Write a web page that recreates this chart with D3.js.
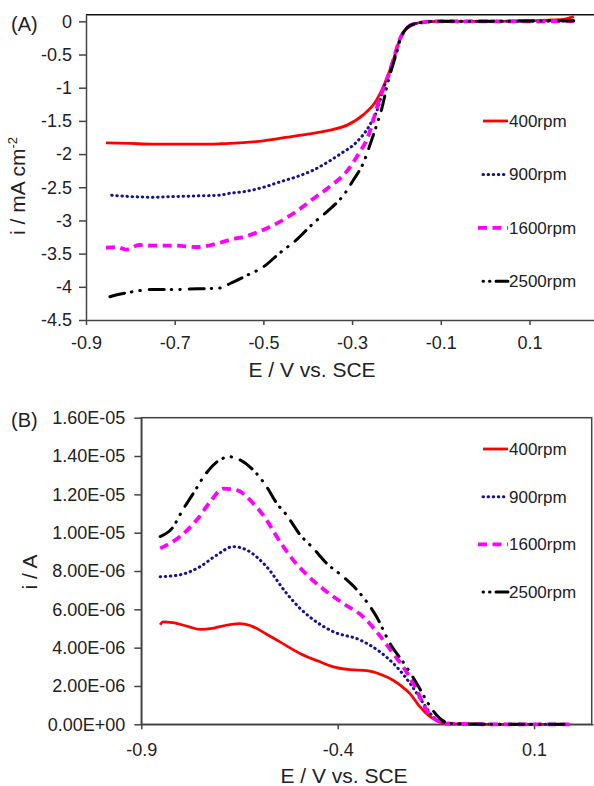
<!DOCTYPE html>
<html>
<head>
<meta charset="utf-8">
<script src="https://cdn.jsdelivr.net/npm/d3@7"></script>
<style>
  body { margin: 0; background: #fff; }
  svg { display: block; font-family: "Liberation Sans", Arial, sans-serif; }
</style>
</head>
<body>
<svg id="chart"></svg>
<script>
//Chart size
const width = 594;
const height = 786;

//++++++++++++++++++
//--DATA--
//++++++++++++++++++
//Legend labels, one per rotation rate
const rpmLabels = ['400rpm', '900rpm', '1600rpm', '2500rpm'];

//Panel (A): [E / V vs. SCE, i / mA cm-2]
const a400 = [[-0.855, -1.83], [-0.8, -1.84], [-0.75, -1.85], [-0.7, -1.85], [-0.65, -1.85], [-0.6, -1.845],
    [-0.575, -1.84], [-0.5, -1.8], [-0.45, -1.75], [-0.4, -1.70], [-0.35, -1.64], [-0.31, -1.56],
    [-0.275, -1.41], [-0.245, -1.19], [-0.226, -0.93], [-0.207, -0.58], [-0.193, -0.28], [-0.177, -0.105],
    [-0.155, -0.03], [-0.124, -0.005], [-0.1, 0], [0, 0], [0.1, 0.01], [0.15, 0.02], [0.18, 0.035], [0.2, 0.07]];
const a900 = [[-0.842, -2.62], [-0.8, -2.64], [-0.75, -2.65], [-0.7, -2.64], [-0.65, -2.63], [-0.6, -2.62],
    [-0.575, -2.59], [-0.538, -2.56], [-0.5, -2.5], [-0.463, -2.42], [-0.42, -2.33], [-0.387, -2.24],
    [-0.35, -2.1], [-0.327, -2.0], [-0.29, -1.82], [-0.26, -1.56], [-0.241, -1.29], [-0.23, -1.03],
    [-0.215, -0.78], [-0.2, -0.45], [-0.19, -0.24], [-0.177, -0.105], [-0.155, -0.03], [-0.124, -0.005],
    [-0.1, 0], [0, 0], [0.1, 0], [0.2, 0.005]];
const a1600 = [[-0.855, -3.41], [-0.83, -3.40], [-0.81, -3.44], [-0.78, -3.37], [-0.75, -3.38], [-0.7, -3.38],
    [-0.65, -3.40], [-0.6, -3.34], [-0.575, -3.29], [-0.54, -3.24], [-0.493, -3.12], [-0.45, -2.97],
    [-0.425, -2.86], [-0.387, -2.67], [-0.35, -2.49], [-0.312, -2.26], [-0.282, -1.96], [-0.268, -1.8],
    [-0.236, -1.13], [-0.222, -0.88], [-0.207, -0.58], [-0.193, -0.28], [-0.177, -0.105], [-0.155, -0.03],
    [-0.124, -0.005], [-0.1, 0], [0, 0], [0.1, 0], [0.2, 0.005]];
const a2500 = [[-0.846, -4.15], [-0.83, -4.12], [-0.8, -4.08], [-0.75, -4.04], [-0.7, -4.04], [-0.65, -4.03],
    [-0.6, -4.02], [-0.575, -3.95], [-0.538, -3.83], [-0.5, -3.7], [-0.463, -3.49], [-0.425, -3.29],
    [-0.387, -3.04], [-0.357, -2.87], [-0.316, -2.59], [-0.297, -2.39], [-0.275, -2.14], [-0.256, -1.79],
    [-0.241, -1.49], [-0.234, -1.34], [-0.219, -0.91], [-0.2, -0.48], [-0.19, -0.25], [-0.177, -0.105],
    [-0.155, -0.03], [-0.124, -0.005], [-0.1, 0], [0, 0], [0.1, 0.005], [0.2, 0.01]];

//Panel (B): [E / V vs. SCE, i / A]
const b400 = [[-0.852, 5.2e-6], [-0.845, 5.35e-6], [-0.82, 5.3e-6], [-0.78, 5.1e-6], [-0.751, 4.95e-6],
    [-0.72, 5.0e-6], [-0.7, 5.1e-6], [-0.649, 5.25e-6], [-0.616, 5.1e-6], [-0.581, 4.7e-6], [-0.547, 4.3e-6],
    [-0.496, 3.7e-6], [-0.45, 3.3e-6], [-0.411, 3.0e-6], [-0.37, 2.85e-6], [-0.326, 2.8e-6], [-0.29, 2.6e-6],
    [-0.259, 2.3e-6], [-0.235, 1.95e-6], [-0.216, 1.6e-6], [-0.191, 0.92e-6], [-0.165, 0.4e-6],
    [-0.14, 0.12e-6], [-0.12, 0.02e-6], [0, 0], [0.19, 0]];
const b900 = [[-0.852, 7.7e-6], [-0.802, 7.8e-6], [-0.751, 8.22e-6], [-0.708, 8.83e-6], [-0.666, 9.27e-6],
    [-0.632, 9.1e-6], [-0.581, 8.22e-6], [-0.53, 6.83e-6], [-0.496, 6.05e-6], [-0.471, 5.6e-6],
    [-0.411, 4.83e-6], [-0.343, 4.4e-6], [-0.293, 3.79e-6], [-0.25, 3.0e-6], [-0.216, 2.14e-6],
    [-0.182, 1.1e-6], [-0.157, 0.4e-6], [-0.123, 0.08e-6], [-0.1, 0.02e-6], [0, 0], [0.19, 0]];
const b1600 = [[-0.852, 9.18e-6], [-0.802, 9.79e-6], [-0.759, 10.66e-6], [-0.725, 11.6e-6], [-0.691, 12.3e-6],
    [-0.657, 12.22e-6], [-0.615, 11.53e-6], [-0.581, 10.66e-6], [-0.555, 9.79e-6], [-0.513, 8.57e-6],
    [-0.471, 7.66e-6], [-0.428, 6.92e-6], [-0.386, 6.31e-6], [-0.335, 5.61e-6], [-0.301, 4.83e-6],
    [-0.259, 3.7e-6], [-0.225, 2.74e-6], [-0.199, 1.79e-6], [-0.174, 0.75e-6], [-0.148, 0.22e-6],
    [-0.12, 0.03e-6], [0, 0], [0.19, 0]];
const b2500 = [[-0.852, 9.8e-6], [-0.819, 10.3e-6], [-0.797, 11.1e-6], [-0.763, 12.2e-6], [-0.742, 12.9e-6],
    [-0.7, 13.8e-6], [-0.674, 13.96e-6], [-0.649, 13.8e-6], [-0.615, 13.27e-6], [-0.581, 12.4e-6],
    [-0.555, 11.53e-6], [-0.53, 10.92e-6], [-0.496, 9.9e-6], [-0.462, 9.18e-6], [-0.428, 8.4e-6],
    [-0.386, 7.7e-6], [-0.343, 6.83e-6], [-0.301, 5.61e-6], [-0.267, 4.23e-6], [-0.225, 3.0e-6],
    [-0.199, 2.14e-6], [-0.17, 1.1e-6], [-0.14, 0.31e-6], [-0.115, 0.05e-6], [0, 0], [0.19, 0]];

//Tick values
const aTicksX = [-0.9, -0.7, -0.5, -0.3, -0.1, 0.1];
const aTicksY = [0, -0.5, -1, -1.5, -2, -2.5, -3, -3.5, -4, -4.5];
const bTicksX = [-0.9, -0.4, 0.1];
const bTicksY = [0, 2e-6, 4e-6, 6e-6, 8e-6, 1e-5, 1.2e-5, 1.4e-5, 1.6e-5];

//Line styles for the four series (same order as rpmLabels)
const styles = [
    { color: '#ff0000', width: 2.8, dash: null, cap: 'butt' },
    { color: '#14148c', width: 3, dash: '0.5 4.6', cap: 'round' },
    { color: '#ff00ff', width: 3.8, dash: '9 5.5', cap: 'butt' },
    { color: '#000000', width: 3, dash: '15 7 0.5 8 0.5 9', cap: 'round' },
];

const svg = d3.select('svg#chart').attr('width', width).attr('height', height);

//Excel-style scientific labels, e.g. 1.60E-05
function sciFormat(d) {
    if (d === 0) return '0.00E+00';
    const [m, e] = d.toExponential(2).split('e');
    const n = Math.abs(+e);
    return m + 'E' + (+e < 0 ? '-' : '+') + (n < 10 ? '0' + n : n);
}

function drawPanel(p) {
    const g = svg.append('g');
    const x = d3.scaleLinear().domain(p.xDomain).range([p.left, p.right]);
    const y = d3.scaleLinear().domain(p.yDomain).range([p.bottom, p.top]);

    //frame
    if (p.box) {
        g.append('rect').attr('x', p.left).attr('y', p.top)
            .attr('width', p.boxRight - p.left).attr('height', p.bottom - p.top)
            .attr('fill', 'none').attr('stroke', '#444').attr('stroke-width', 1.5);
    } else {
        g.append('line').attr('x1', p.left).attr('x2', width).attr('y1', p.top).attr('y2', p.top)
            .attr('stroke', '#111').attr('stroke-width', 1.5);
    }

    //axes
    const xAxis = g.append('g').attr('transform', `translate(0,${p.bottom})`)
        .call(d3.axisBottom(x).tickValues(p.xTicks).tickSize(5).tickSizeOuter(0)
            .tickPadding(p.xPad).tickFormat(d => String(d)));
    const yAxis = g.append('g').attr('transform', `translate(${p.left},0)`)
        .call(d3.axisLeft(y).tickValues(p.yTicks).tickSize(7).tickSizeOuter(0)
            .tickPadding(p.yPad).tickFormat(p.yFormat));
    [xAxis, yAxis].forEach(a => {
        a.attr('font-family', null).attr('font-size', 18);
        a.selectAll('path, line').attr('stroke', '#444').attr('stroke-width', 1.5);
        a.selectAll('text').attr('fill', '#222');
    });

    //curves
    const line = d3.line().x(d => x(d[0])).y(d => y(d[1])).curve(d3.curveMonotoneX);
    p.series.forEach((s, i) => {
        const st = styles[i];
        g.append('path').datum(s).attr('d', line)
            .attr('fill', 'none').attr('stroke', st.color).attr('stroke-width', st.width)
            .attr('stroke-dasharray', st.dash).attr('stroke-linecap', st.cap)
            .attr('stroke-linejoin', 'round');
    });

    //legend
    rpmLabels.forEach((lab, i) => {
        const st = styles[i];
        const ly = p.legendY + i * p.legendStep;
        g.append('line').attr('x1', i === 2 ? 478 : 483).attr('x2', 508).attr('y1', ly).attr('y2', ly)
            .attr('stroke', st.color).attr('stroke-width', st.width)
            .attr('stroke-dasharray', i === 3 ? '0.5 6 0.5 6 14' : st.dash)
            .attr('stroke-linecap', st.cap);
        g.append('text').attr('x', 509).attr('y', ly).attr('dy', '0.35em')
            .attr('font-size', 17).attr('fill', '#222').text(lab);
    });

    //panel letter and titles
    g.append('text').attr('x', 11).attr('y', p.letterY).attr('font-size', 20).attr('fill', '#222').text(p.letter);
    g.append('text').attr('x', p.xTitleX).attr('y', p.xTitleY).attr('text-anchor', 'middle')
        .attr('font-size', 21).attr('fill', '#222').text('E / V vs. SCE');
    const yt = g.append('text').attr('transform', `translate(${p.yTitleX},${p.yTitleY}) rotate(-90)`)
        .attr('text-anchor', 'middle').attr('font-size', 21).attr('fill', '#222');
    p.yTitle(yt);
}

//Panel (A)
drawPanel({
    series: [a400, a900, a1600, a2500],
    xDomain: [-0.9, 0.25], yDomain: [-4.5, 0.1],
    left: 86, right: 596, top: 14.7, bottom: 320, box: false,
    xTicks: aTicksX, yTicks: aTicksY, xPad: 11, yPad: 7, yFormat: d => String(d),
    legendY: 121, legendStep: 53.4,
    letter: '(A)', letterY: 31,
    xTitleX: 312, xTitleY: 377,
    yTitleX: 25, yTitleY: 186,
    yTitle: t => {
        t.append('tspan').text('i / mA cm');
        t.append('tspan').attr('dy', -8).attr('font-size', 13).text('-2');
    },
});

//Panel (B)
drawPanel({
    series: [b400, b900, b1600, b2500],
    xDomain: [-0.9, 0.25], yDomain: [0, 1.6e-5],
    left: 141.3, right: 593, top: 417.7, bottom: 724.3, box: true, boxRight: 591.7,
    xTicks: bTicksX, yTicks: bTicksY, xPad: 14, yPad: 9, yFormat: sciFormat,
    legendY: 449, legendStep: 47.7,
    letter: '(B)', letterY: 427,
    xTitleX: 344, xTitleY: 783,
    yTitleX: 37, yTitleY: 572,
    yTitle: t => t.text('i / A'),
});
</script>
</body>
</html>
